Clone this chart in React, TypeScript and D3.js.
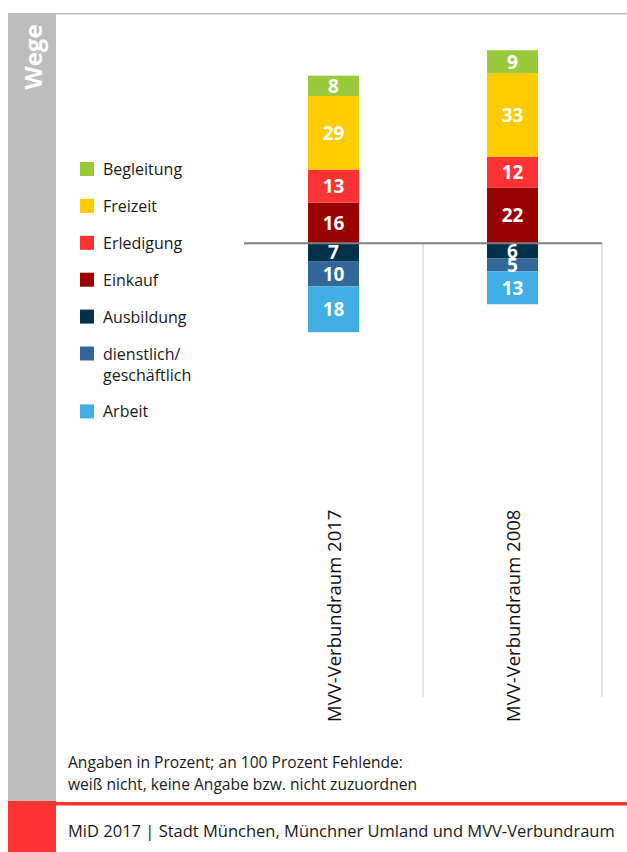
import React from "react";
import * as d3 from "d3";

const categories = ["MVV-Verbundraum 2017", "MVV-Verbundraum 2008"];
const begleitung = [8, 9];
const freizeit = [29, 33];
const erledigung = [13, 12];
const einkauf = [16, 22];
const ausbildung = [7, 6];
const dienstlich = [10, 5];
const arbeit = [18, 13];

const legendLabels = ["Begleitung", "Freizeit", "Erledigung", "Einkauf", "Ausbildung", "dienstlich/\ngeschäftlich", "Arbeit"];
const colors = ["#9ACA3C", "#FFCC00", "#FF3333", "#990000", "#00304A", "#336699", "#41AFE3"];

const W = 627;
const H = 852;
const FONT = "'Open Sans', 'DejaVu Sans', sans-serif";

export default function App() {
  const x = d3.scaleBand<string>().domain(categories).range([244, 602]).padding(0);
  const y = d3.scaleLinear().domain([-40, 80]).range([243.3 + 40 * 2.54, 243.3 - 80 * 2.54]);
  const barW = x.bandwidth() * 0.285;

  // positive stack from zero up: Einkauf, Erledigung, Freizeit, Begleitung
  const posSeries = [
    { vals: einkauf, color: colors[3] },
    { vals: erledigung, color: colors[2] },
    { vals: freizeit, color: colors[1] },
    { vals: begleitung, color: colors[0] },
  ];
  // negative stack from zero down: Ausbildung, dienstlich, Arbeit
  const negSeries = [
    { vals: ausbildung, color: colors[4] },
    { vals: dienstlich, color: colors[5] },
    { vals: arbeit, color: colors[6] },
  ];

  const segs: { cat: string; v0: number; v1: number; val: number; color: string }[] = [];
  categories.forEach((cat, i) => {
    let acc = 0;
    posSeries.forEach((s) => {
      segs.push({ cat, v0: acc, v1: acc + s.vals[i], val: s.vals[i], color: s.color });
      acc += s.vals[i];
    });
    acc = 0;
    negSeries.forEach((s) => {
      segs.push({ cat, v0: acc, v1: acc - s.vals[i], val: s.vals[i], color: s.color });
      acc -= s.vals[i];
    });
  });

  // legend positions
  let legendY = 169;
  const legendItems = legendLabels.map((lab, i) => {
    const lines = lab.split("\n");
    const item = { lines, color: colors[i], y: legendY };
    legendY += 36.9 + (lines.length - 1) * 21;
    return item;
  });

  const zeroY = y(0);

  return (
    <svg width={W} height={H} style={{ position: "absolute", left: 0, top: 0 }} fontFamily={FONT}>
      <rect x={0} y={0} width={W} height={H} fill="#fff" />
      {/* left gray band */}
      <rect x={8} y={13} width={48} height={788} fill="#BDBDBD" />
      <line x1={56} x2={W} y1={13.7} y2={13.7} stroke="#BDBDBD" strokeWidth={1.5} />
      <text
        transform={`translate(32,57) rotate(-90)`}
        textAnchor="middle"
        dominantBaseline="central"
        fill="#fff"
        fontWeight="bold"
        fontSize={24}
      >
        Wege
      </text>
      {/* bottom red band */}
      <rect x={8} y={801} width={48} height={51} fill="#FF3333" />
      <rect x={56} y={802} width={W - 56} height={3.5} fill="#FF3333" />

      {/* gridlines at band boundaries */}
      {categories.map((c) => (
        <line
          key={c}
          x1={(x(c) as number) + x.bandwidth()}
          x2={(x(c) as number) + x.bandwidth()}
          y1={zeroY}
          y2={697}
          stroke="#DDDDDD"
          strokeWidth={1.5}
        />
      ))}

      {/* bars */}
      {segs.map((s, i) => {
        const cx = (x(s.cat) as number) + x.bandwidth() / 2;
        const top = y(Math.max(s.v0, s.v1));
        const bot = y(Math.min(s.v0, s.v1));
        return (
          <g key={i}>
            <rect x={cx - barW / 2} y={top} width={barW} height={bot - top} fill={s.color} />
          </g>
        );
      })}
      {/* zero line */}
      <line x1={244} x2={602} y1={zeroY} y2={zeroY} stroke="#808080" strokeWidth={2} />
      {segs.map((s, i) => {
        const cx = (x(s.cat) as number) + x.bandwidth() / 2;
        const mid = y((s.v0 + s.v1) / 2);
        return (
          <text
            key={"t" + i}
            x={cx}
            y={mid}
            textAnchor="middle"
            dominantBaseline="central"
            fill="#fff"
            fontWeight="bold"
            fontSize={19}
          >
            {s.val}
          </text>
        );
      })}

      {/* category labels */}
      {categories.map((c) => {
        const cx = (x(c) as number) + x.bandwidth() / 2;
        return (
          <text
            key={"c" + c}
            transform={`translate(${cx},722) rotate(-90)`}
            textAnchor="start"
            dominantBaseline="central"
            fill="#111"
            fontSize={18.5}
          >
            {c}
          </text>
        );
      })}

      {/* legend */}
      {legendItems.map((it, i) => (
        <g key={"l" + i}>
          <rect x={80} y={it.y - 7} width={14} height={14} fill={it.color} />
          {it.lines.map((ln, j) => (
            <text key={j} x={103} y={it.y + j * 21} dominantBaseline="central" fill="#1a1a1a" fontSize={16}>
              {ln}
            </text>
          ))}
        </g>
      ))}

      {/* notes */}
      <text x={68} y={762} dominantBaseline="central" fill="#1a1a1a" fontSize={15.6}>
        Angaben in Prozent; an 100 Prozent Fehlende:
      </text>
      <text x={68} y={784} dominantBaseline="central" fill="#1a1a1a" fontSize={15.6}>
        weiß nicht, keine Angabe bzw. nicht zuzuordnen
      </text>
      <text x={68} y={830} dominantBaseline="central" fill="#1a1a1a" fontSize={16.5}>
        MiD 2017 | Stadt München, Münchner Umland und MVV-Verbundraum
      </text>
    </svg>
  );
}
